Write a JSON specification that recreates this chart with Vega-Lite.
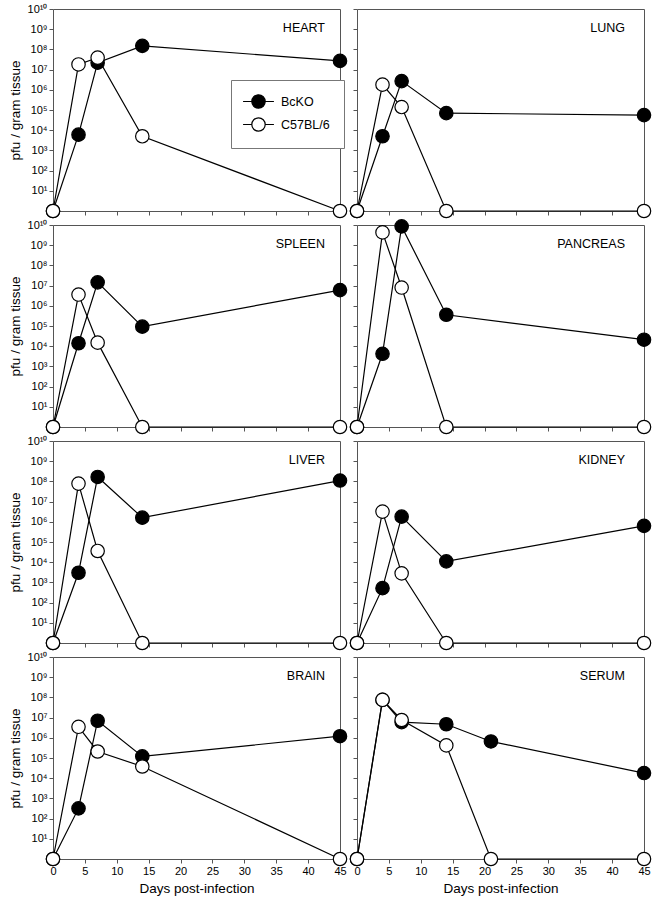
{
  "$schema": "https://vega.github.io/schema/vega-lite/v6.json",
  "padding": {"left": 7, "top": 2, "right": 5, "bottom": 5},
  "background": "white",
  "datasets": {
    "v": [
      {"organ": "HEART", "strain": "BcKO", "day": 0, "pfu": 1},
      {"organ": "HEART", "strain": "BcKO", "day": 4, "pfu": 6000},
      {"organ": "HEART", "strain": "BcKO", "day": 7, "pfu": 22000000},
      {"organ": "HEART", "strain": "BcKO", "day": 14, "pfu": 150000000},
      {"organ": "HEART", "strain": "BcKO", "day": 45, "pfu": 27000000},
      {"organ": "HEART", "strain": "C57BL/6", "day": 0, "pfu": 1},
      {"organ": "HEART", "strain": "C57BL/6", "day": 4, "pfu": 18000000},
      {"organ": "HEART", "strain": "C57BL/6", "day": 7, "pfu": 39000000},
      {"organ": "HEART", "strain": "C57BL/6", "day": 14, "pfu": 5000},
      {"organ": "HEART", "strain": "C57BL/6", "day": 45, "pfu": 1},
      {"organ": "LUNG", "strain": "BcKO", "day": 0, "pfu": 1},
      {"organ": "LUNG", "strain": "BcKO", "day": 4, "pfu": 5000},
      {"organ": "LUNG", "strain": "BcKO", "day": 7, "pfu": 2700000},
      {"organ": "LUNG", "strain": "BcKO", "day": 14, "pfu": 70000},
      {"organ": "LUNG", "strain": "BcKO", "day": 45, "pfu": 56000},
      {"organ": "LUNG", "strain": "C57BL/6", "day": 0, "pfu": 1},
      {"organ": "LUNG", "strain": "C57BL/6", "day": 4, "pfu": 1800000},
      {"organ": "LUNG", "strain": "C57BL/6", "day": 7, "pfu": 140000},
      {"organ": "LUNG", "strain": "C57BL/6", "day": 14, "pfu": 1},
      {"organ": "LUNG", "strain": "C57BL/6", "day": 45, "pfu": 1},
      {"organ": "SPLEEN", "strain": "BcKO", "day": 0, "pfu": 1},
      {"organ": "SPLEEN", "strain": "BcKO", "day": 4, "pfu": 14000},
      {"organ": "SPLEEN", "strain": "BcKO", "day": 7, "pfu": 14500000},
      {"organ": "SPLEEN", "strain": "BcKO", "day": 14, "pfu": 93000},
      {"organ": "SPLEEN", "strain": "BcKO", "day": 45, "pfu": 6000000},
      {"organ": "SPLEEN", "strain": "C57BL/6", "day": 0, "pfu": 1},
      {"organ": "SPLEEN", "strain": "C57BL/6", "day": 4, "pfu": 3600000},
      {"organ": "SPLEEN", "strain": "C57BL/6", "day": 7, "pfu": 15000},
      {"organ": "SPLEEN", "strain": "C57BL/6", "day": 14, "pfu": 1},
      {"organ": "SPLEEN", "strain": "C57BL/6", "day": 45, "pfu": 1},
      {"organ": "PANCREAS", "strain": "BcKO", "day": 0, "pfu": 1},
      {"organ": "PANCREAS", "strain": "BcKO", "day": 4, "pfu": 4200},
      {"organ": "PANCREAS", "strain": "BcKO", "day": 7, "pfu": 8500000000},
      {"organ": "PANCREAS", "strain": "BcKO", "day": 14, "pfu": 360000},
      {"organ": "PANCREAS", "strain": "BcKO", "day": 45, "pfu": 21000},
      {"organ": "PANCREAS", "strain": "C57BL/6", "day": 0, "pfu": 1},
      {"organ": "PANCREAS", "strain": "C57BL/6", "day": 4, "pfu": 4300000000},
      {"organ": "PANCREAS", "strain": "C57BL/6", "day": 7, "pfu": 8000000},
      {"organ": "PANCREAS", "strain": "C57BL/6", "day": 14, "pfu": 1},
      {"organ": "PANCREAS", "strain": "C57BL/6", "day": 45, "pfu": 1},
      {"organ": "LIVER", "strain": "BcKO", "day": 0, "pfu": 1},
      {"organ": "LIVER", "strain": "BcKO", "day": 4, "pfu": 3000},
      {"organ": "LIVER", "strain": "BcKO", "day": 7, "pfu": 166000000},
      {"organ": "LIVER", "strain": "BcKO", "day": 14, "pfu": 1600000},
      {"organ": "LIVER", "strain": "BcKO", "day": 45, "pfu": 110000000},
      {"organ": "LIVER", "strain": "C57BL/6", "day": 0, "pfu": 1},
      {"organ": "LIVER", "strain": "C57BL/6", "day": 4, "pfu": 78000000},
      {"organ": "LIVER", "strain": "C57BL/6", "day": 7, "pfu": 36000},
      {"organ": "LIVER", "strain": "C57BL/6", "day": 14, "pfu": 1},
      {"organ": "LIVER", "strain": "C57BL/6", "day": 45, "pfu": 1},
      {"organ": "KIDNEY", "strain": "BcKO", "day": 0, "pfu": 1},
      {"organ": "KIDNEY", "strain": "BcKO", "day": 4, "pfu": 520},
      {"organ": "KIDNEY", "strain": "BcKO", "day": 7, "pfu": 1800000},
      {"organ": "KIDNEY", "strain": "BcKO", "day": 14, "pfu": 11000},
      {"organ": "KIDNEY", "strain": "BcKO", "day": 45, "pfu": 630000},
      {"organ": "KIDNEY", "strain": "C57BL/6", "day": 0, "pfu": 1},
      {"organ": "KIDNEY", "strain": "C57BL/6", "day": 4, "pfu": 3200000},
      {"organ": "KIDNEY", "strain": "C57BL/6", "day": 7, "pfu": 2800},
      {"organ": "KIDNEY", "strain": "C57BL/6", "day": 14, "pfu": 1},
      {"organ": "KIDNEY", "strain": "C57BL/6", "day": 45, "pfu": 1},
      {"organ": "BRAIN", "strain": "BcKO", "day": 0, "pfu": 1},
      {"organ": "BRAIN", "strain": "BcKO", "day": 4, "pfu": 320},
      {"organ": "BRAIN", "strain": "BcKO", "day": 7, "pfu": 7000000},
      {"organ": "BRAIN", "strain": "BcKO", "day": 14, "pfu": 120000},
      {"organ": "BRAIN", "strain": "BcKO", "day": 45, "pfu": 1200000},
      {"organ": "BRAIN", "strain": "C57BL/6", "day": 0, "pfu": 1},
      {"organ": "BRAIN", "strain": "C57BL/6", "day": 4, "pfu": 3500000},
      {"organ": "BRAIN", "strain": "C57BL/6", "day": 7, "pfu": 210000},
      {"organ": "BRAIN", "strain": "C57BL/6", "day": 14, "pfu": 38000},
      {"organ": "BRAIN", "strain": "C57BL/6", "day": 45, "pfu": 1},
      {"organ": "SERUM", "strain": "BcKO", "day": 0, "pfu": 1},
      {"organ": "SERUM", "strain": "BcKO", "day": 4, "pfu": 75000000},
      {"organ": "SERUM", "strain": "BcKO", "day": 7, "pfu": 6000000},
      {"organ": "SERUM", "strain": "BcKO", "day": 14, "pfu": 4700000},
      {"organ": "SERUM", "strain": "BcKO", "day": 21, "pfu": 660000},
      {"organ": "SERUM", "strain": "BcKO", "day": 45, "pfu": 18000},
      {"organ": "SERUM", "strain": "C57BL/6", "day": 0, "pfu": 1},
      {"organ": "SERUM", "strain": "C57BL/6", "day": 4, "pfu": 76000000},
      {"organ": "SERUM", "strain": "C57BL/6", "day": 7, "pfu": 7600000},
      {"organ": "SERUM", "strain": "C57BL/6", "day": 14, "pfu": 420000},
      {"organ": "SERUM", "strain": "C57BL/6", "day": 21, "pfu": 1},
      {"organ": "SERUM", "strain": "C57BL/6", "day": 45, "pfu": 1}
    ]
  },
  "columns": 2,
  "spacing": {"row": 14, "column": 17},
  "bounds": "flush",
  "concat": [
      {"width": 287, "height": 202, "data": {"name": "v"}, "transform": [{"filter": "datum.organ === 'HEART'"}],
       "encoding": {
         "x": {"field": "day", "type": "quantitative", "scale": {"domain": [0, 45], "nice": false, "zero": false}, "axis": {"values": [0,5,10,15,20,25,30,35,40,45], "labels": false, "title": null}},
         "y": {"field": "pfu", "type": "quantitative", "scale": {"type": "log", "domain": [1, 10000000000], "nice": false}, "axis": {"values": [1,10,100,1000,10000,100000,1000000,10000000,100000000,1000000000,10000000000], "labelExpr": "datum.value < 5 ? '' : (datum.value > 5e9 ? '10¹⁰' : '10' + ['¹','²','³','⁴','⁵','⁶','⁷','⁸','⁹'][round(log(datum.value)/LN10) - 1])", "title": "pfu / gram tissue"}}
       },
       "layer": [
         {"mark": {"type": "line", "color": "black", "strokeWidth": 1.2}, "encoding": {"detail": {"field": "strain"}}},
         {"mark": {"type": "point", "shape": "circle", "filled": true, "size": 180, "stroke": "black", "strokeWidth": 1.2, "opacity": 1}, "encoding": {"fill": {"field": "strain", "type": "nominal", "title": null, "scale": {"domain": ["BcKO", "C57BL/6"], "range": ["black", "white"]}}}},
         {"transform": [{"filter": "datum.day === 0 && datum.strain === 'BcKO'"}], "mark": {"type": "text", "align": "right", "baseline": "alphabetic", "dx": -15, "dy": 23, "fontSize": 12.5, "color": "black"}, "encoding": {"x": {"datum": 45}, "y": {"datum": 10000000000}, "text": {"field": "organ"}}}
       ]},
      {"width": 287, "height": 202, "data": {"name": "v"}, "transform": [{"filter": "datum.organ === 'LUNG'"}],
       "encoding": {
         "x": {"field": "day", "type": "quantitative", "scale": {"domain": [0, 45], "nice": false, "zero": false}, "axis": {"values": [0,5,10,15,20,25,30,35,40,45], "labels": false, "title": null}},
         "y": {"field": "pfu", "type": "quantitative", "scale": {"type": "log", "domain": [1, 10000000000], "nice": false}, "axis": {"values": [1,10,100,1000,10000,100000,1000000,10000000,100000000,1000000000,10000000000], "labels": false, "title": null}}
       },
       "layer": [
         {"mark": {"type": "line", "color": "black", "strokeWidth": 1.2}, "encoding": {"detail": {"field": "strain"}}},
         {"mark": {"type": "point", "shape": "circle", "filled": true, "size": 180, "stroke": "black", "strokeWidth": 1.2, "opacity": 1}, "encoding": {"fill": {"field": "strain", "type": "nominal", "title": null, "scale": {"domain": ["BcKO", "C57BL/6"], "range": ["black", "white"]}}}},
         {"transform": [{"filter": "datum.day === 0 && datum.strain === 'BcKO'"}], "mark": {"type": "text", "align": "right", "baseline": "alphabetic", "dx": -19, "dy": 23, "fontSize": 12.5, "color": "black"}, "encoding": {"x": {"datum": 45}, "y": {"datum": 10000000000}, "text": {"field": "organ"}}}
       ]},
      {"width": 287, "height": 202, "data": {"name": "v"}, "transform": [{"filter": "datum.organ === 'SPLEEN'"}],
       "encoding": {
         "x": {"field": "day", "type": "quantitative", "scale": {"domain": [0, 45], "nice": false, "zero": false}, "axis": {"values": [0,5,10,15,20,25,30,35,40,45], "labels": false, "title": null}},
         "y": {"field": "pfu", "type": "quantitative", "scale": {"type": "log", "domain": [1, 10000000000], "nice": false}, "axis": {"values": [1,10,100,1000,10000,100000,1000000,10000000,100000000,1000000000,10000000000], "labelExpr": "datum.value < 5 ? '' : (datum.value > 5e9 ? '10¹⁰' : '10' + ['¹','²','³','⁴','⁵','⁶','⁷','⁸','⁹'][round(log(datum.value)/LN10) - 1])", "title": "pfu / gram tissue"}}
       },
       "layer": [
         {"mark": {"type": "line", "color": "black", "strokeWidth": 1.2}, "encoding": {"detail": {"field": "strain"}}},
         {"mark": {"type": "point", "shape": "circle", "filled": true, "size": 180, "stroke": "black", "strokeWidth": 1.2, "opacity": 1}, "encoding": {"fill": {"field": "strain", "type": "nominal", "title": null, "scale": {"domain": ["BcKO", "C57BL/6"], "range": ["black", "white"]}}}},
         {"transform": [{"filter": "datum.day === 0 && datum.strain === 'BcKO'"}], "mark": {"type": "text", "align": "right", "baseline": "alphabetic", "dx": -15, "dy": 23, "fontSize": 12.5, "color": "black"}, "encoding": {"x": {"datum": 45}, "y": {"datum": 10000000000}, "text": {"field": "organ"}}}
       ]},
      {"width": 287, "height": 202, "data": {"name": "v"}, "transform": [{"filter": "datum.organ === 'PANCREAS'"}],
       "encoding": {
         "x": {"field": "day", "type": "quantitative", "scale": {"domain": [0, 45], "nice": false, "zero": false}, "axis": {"values": [0,5,10,15,20,25,30,35,40,45], "labels": false, "title": null}},
         "y": {"field": "pfu", "type": "quantitative", "scale": {"type": "log", "domain": [1, 10000000000], "nice": false}, "axis": {"values": [1,10,100,1000,10000,100000,1000000,10000000,100000000,1000000000,10000000000], "labels": false, "title": null}}
       },
       "layer": [
         {"mark": {"type": "line", "color": "black", "strokeWidth": 1.2}, "encoding": {"detail": {"field": "strain"}}},
         {"mark": {"type": "point", "shape": "circle", "filled": true, "size": 180, "stroke": "black", "strokeWidth": 1.2, "opacity": 1}, "encoding": {"fill": {"field": "strain", "type": "nominal", "title": null, "scale": {"domain": ["BcKO", "C57BL/6"], "range": ["black", "white"]}}}},
         {"transform": [{"filter": "datum.day === 0 && datum.strain === 'BcKO'"}], "mark": {"type": "text", "align": "right", "baseline": "alphabetic", "dx": -19, "dy": 23, "fontSize": 12.5, "color": "black"}, "encoding": {"x": {"datum": 45}, "y": {"datum": 10000000000}, "text": {"field": "organ"}}}
       ]},
      {"width": 287, "height": 202, "data": {"name": "v"}, "transform": [{"filter": "datum.organ === 'LIVER'"}],
       "encoding": {
         "x": {"field": "day", "type": "quantitative", "scale": {"domain": [0, 45], "nice": false, "zero": false}, "axis": {"values": [0,5,10,15,20,25,30,35,40,45], "labels": false, "title": null}},
         "y": {"field": "pfu", "type": "quantitative", "scale": {"type": "log", "domain": [1, 10000000000], "nice": false}, "axis": {"values": [1,10,100,1000,10000,100000,1000000,10000000,100000000,1000000000,10000000000], "labelExpr": "datum.value < 5 ? '' : (datum.value > 5e9 ? '10¹⁰' : '10' + ['¹','²','³','⁴','⁵','⁶','⁷','⁸','⁹'][round(log(datum.value)/LN10) - 1])", "title": "pfu / gram tissue"}}
       },
       "layer": [
         {"mark": {"type": "line", "color": "black", "strokeWidth": 1.2}, "encoding": {"detail": {"field": "strain"}}},
         {"mark": {"type": "point", "shape": "circle", "filled": true, "size": 180, "stroke": "black", "strokeWidth": 1.2, "opacity": 1}, "encoding": {"fill": {"field": "strain", "type": "nominal", "title": null, "scale": {"domain": ["BcKO", "C57BL/6"], "range": ["black", "white"]}}}},
         {"transform": [{"filter": "datum.day === 0 && datum.strain === 'BcKO'"}], "mark": {"type": "text", "align": "right", "baseline": "alphabetic", "dx": -15, "dy": 23, "fontSize": 12.5, "color": "black"}, "encoding": {"x": {"datum": 45}, "y": {"datum": 10000000000}, "text": {"field": "organ"}}}
       ]},
      {"width": 287, "height": 202, "data": {"name": "v"}, "transform": [{"filter": "datum.organ === 'KIDNEY'"}],
       "encoding": {
         "x": {"field": "day", "type": "quantitative", "scale": {"domain": [0, 45], "nice": false, "zero": false}, "axis": {"values": [0,5,10,15,20,25,30,35,40,45], "labels": false, "title": null}},
         "y": {"field": "pfu", "type": "quantitative", "scale": {"type": "log", "domain": [1, 10000000000], "nice": false}, "axis": {"values": [1,10,100,1000,10000,100000,1000000,10000000,100000000,1000000000,10000000000], "labels": false, "title": null}}
       },
       "layer": [
         {"mark": {"type": "line", "color": "black", "strokeWidth": 1.2}, "encoding": {"detail": {"field": "strain"}}},
         {"mark": {"type": "point", "shape": "circle", "filled": true, "size": 180, "stroke": "black", "strokeWidth": 1.2, "opacity": 1}, "encoding": {"fill": {"field": "strain", "type": "nominal", "title": null, "scale": {"domain": ["BcKO", "C57BL/6"], "range": ["black", "white"]}}}},
         {"transform": [{"filter": "datum.day === 0 && datum.strain === 'BcKO'"}], "mark": {"type": "text", "align": "right", "baseline": "alphabetic", "dx": -19, "dy": 23, "fontSize": 12.5, "color": "black"}, "encoding": {"x": {"datum": 45}, "y": {"datum": 10000000000}, "text": {"field": "organ"}}}
       ]},
      {"width": 287, "height": 202, "data": {"name": "v"}, "transform": [{"filter": "datum.organ === 'BRAIN'"}],
       "encoding": {
         "x": {"field": "day", "type": "quantitative", "scale": {"domain": [0, 45], "nice": false, "zero": false}, "axis": {"values": [0,5,10,15,20,25,30,35,40,45], "title": "Days post-infection"}},
         "y": {"field": "pfu", "type": "quantitative", "scale": {"type": "log", "domain": [1, 10000000000], "nice": false}, "axis": {"values": [1,10,100,1000,10000,100000,1000000,10000000,100000000,1000000000,10000000000], "labelExpr": "datum.value < 5 ? '' : (datum.value > 5e9 ? '10¹⁰' : '10' + ['¹','²','³','⁴','⁵','⁶','⁷','⁸','⁹'][round(log(datum.value)/LN10) - 1])", "title": "pfu / gram tissue"}}
       },
       "layer": [
         {"mark": {"type": "line", "color": "black", "strokeWidth": 1.2}, "encoding": {"detail": {"field": "strain"}}},
         {"mark": {"type": "point", "shape": "circle", "filled": true, "size": 180, "stroke": "black", "strokeWidth": 1.2, "opacity": 1}, "encoding": {"fill": {"field": "strain", "type": "nominal", "title": null, "scale": {"domain": ["BcKO", "C57BL/6"], "range": ["black", "white"]}}}},
         {"transform": [{"filter": "datum.day === 0 && datum.strain === 'BcKO'"}], "mark": {"type": "text", "align": "right", "baseline": "alphabetic", "dx": -15, "dy": 23, "fontSize": 12.5, "color": "black"}, "encoding": {"x": {"datum": 45}, "y": {"datum": 10000000000}, "text": {"field": "organ"}}}
       ]},
      {"width": 287, "height": 202, "data": {"name": "v"}, "transform": [{"filter": "datum.organ === 'SERUM'"}],
       "encoding": {
         "x": {"field": "day", "type": "quantitative", "scale": {"domain": [0, 45], "nice": false, "zero": false}, "axis": {"values": [0,5,10,15,20,25,30,35,40,45], "title": "Days post-infection"}},
         "y": {"field": "pfu", "type": "quantitative", "scale": {"type": "log", "domain": [1, 10000000000], "nice": false}, "axis": {"values": [1,10,100,1000,10000,100000,1000000,10000000,100000000,1000000000,10000000000], "labels": false, "title": null}}
       },
       "layer": [
         {"mark": {"type": "line", "color": "black", "strokeWidth": 1.2}, "encoding": {"detail": {"field": "strain"}}},
         {"mark": {"type": "point", "shape": "circle", "filled": true, "size": 180, "stroke": "black", "strokeWidth": 1.2, "opacity": 1}, "encoding": {"fill": {"field": "strain", "type": "nominal", "title": null, "scale": {"domain": ["BcKO", "C57BL/6"], "range": ["black", "white"]}}}},
         {"transform": [{"filter": "datum.day === 0 && datum.strain === 'BcKO'"}], "mark": {"type": "text", "align": "right", "baseline": "alphabetic", "dx": -19, "dy": 23, "fontSize": 12.5, "color": "black"}, "encoding": {"x": {"datum": 45}, "y": {"datum": 10000000000}, "text": {"field": "organ"}}}
       ]}
  ],
  "config": {
    "font": "Liberation Sans",
    "view": {"stroke": "#555", "strokeWidth": 1},
    "text": {"font": "Liberation Sans", "color": "black"},
    "axis": {"domain": false, "grid": false, "tickColor": "#555", "tickSize": 4, "labelFont": "Liberation Sans", "titleFont": "Liberation Sans", "labelFontSize": 11, "titleFontSize": 13.5, "titleFontWeight": "normal", "labelColor": "black", "titleColor": "black", "labelOverlap": false, "labelFlush": false, "labelAngle": 0, "titlePadding": 5},
    "legend": {"orient": "none", "legendX": 178, "legendY": 71, "strokeColor": "#777", "fillColor": "white", "padding": 14, "symbolType": "M-2.3,0L-1,0M1,0L2.3,0M1,0A1,1,0,1,1,-1,0A1,1,0,1,1,1,0Z", "symbolSize": 180, "symbolStrokeColor": "black", "symbolStrokeWidth": 1.2, "symbolOffset": 6, "labelOffset": 15, "labelFontSize": 12.5, "labelFont": "Liberation Sans", "labelColor": "black", "rowPadding": 4}
  }
}
